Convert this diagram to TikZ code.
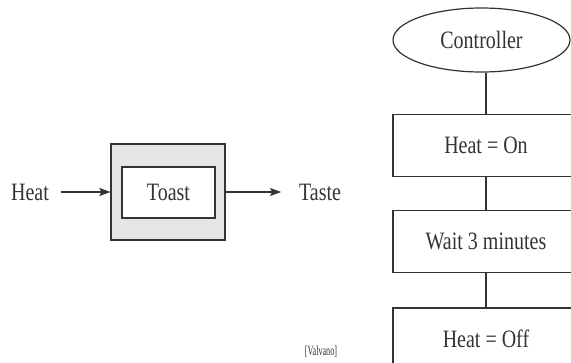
\documentclass[tikz,border=0pt]{standalone}
\usepackage{fontspec}
\setmainfont[FakeStretch=0.8]{Liberation Serif}
\newfontfamily\citefont[FakeStretch=0.58]{Liberation Serif}
\usetikzlibrary{arrows.meta, positioning, shapes}
\definecolor{plantgray}{gray}{0.9}
\definecolor{inkgray}{gray}{0.2}
\tikzset{flow box/.style={rectangle,draw,minimum width=186pt,minimum height=62pt,inner sep=0pt},}
\tikzset{plant box/.style={rectangle,draw,fill=plantgray,minimum width=114pt,minimum height=96pt,inner sep=0pt},}
\tikzset{toast box/.style={rectangle,draw,fill=white,minimum width=93pt,minimum height=51pt,inner sep=0pt},}

\begin{document}
\begin{tikzpicture}[x=1pt, y=-1pt, line width=1.2pt, draw=inkgray, text=inkgray, font=\fontsize{25}{28}\selectfont]
       \useasboundingbox (0,0) rectangle (571,362);
       % open loop: heat in, taste out
       \node[plant box] (plant) at (168,192) {};
       \node[toast box] (toast) at (168.5,192.5) {Toast};
       \node (heat) at (30,192) {Heat};
       \node (taste) at (320,192) {Taste};
       \node[font=\citefont\fontsize{14}{15}\selectfont] (cite) at (321,352) {[Valvano]};
       
       % controller steps
       \node[ellipse,draw,minimum width=177pt,minimum height=64pt,inner sep=0pt] (ctrl) at (481.5,40) {Controller};
       \node[flow box] (on) at (486,145.5) {Heat = On};
       \node[flow box] (wait) [below = 33pt of on]{Wait 3 minutes};
       \node[flow box] (off) [below = 34pt of wait]{Heat = Off};
       
       \path[draw, line width=1.6pt, -{Stealth[length=11pt,width=8pt,inset=2pt]}]
       (heat) edge [shorten <=8pt] (plant)
       (plant) edge [shorten >=14pt] (taste);
       
       \path[draw, line width=1.6pt]
       (on.north |- ctrl.south) edge (on.north)
       (on) edge (wait)
       (wait) edge (off);
    \end{tikzpicture}
\end{document}
